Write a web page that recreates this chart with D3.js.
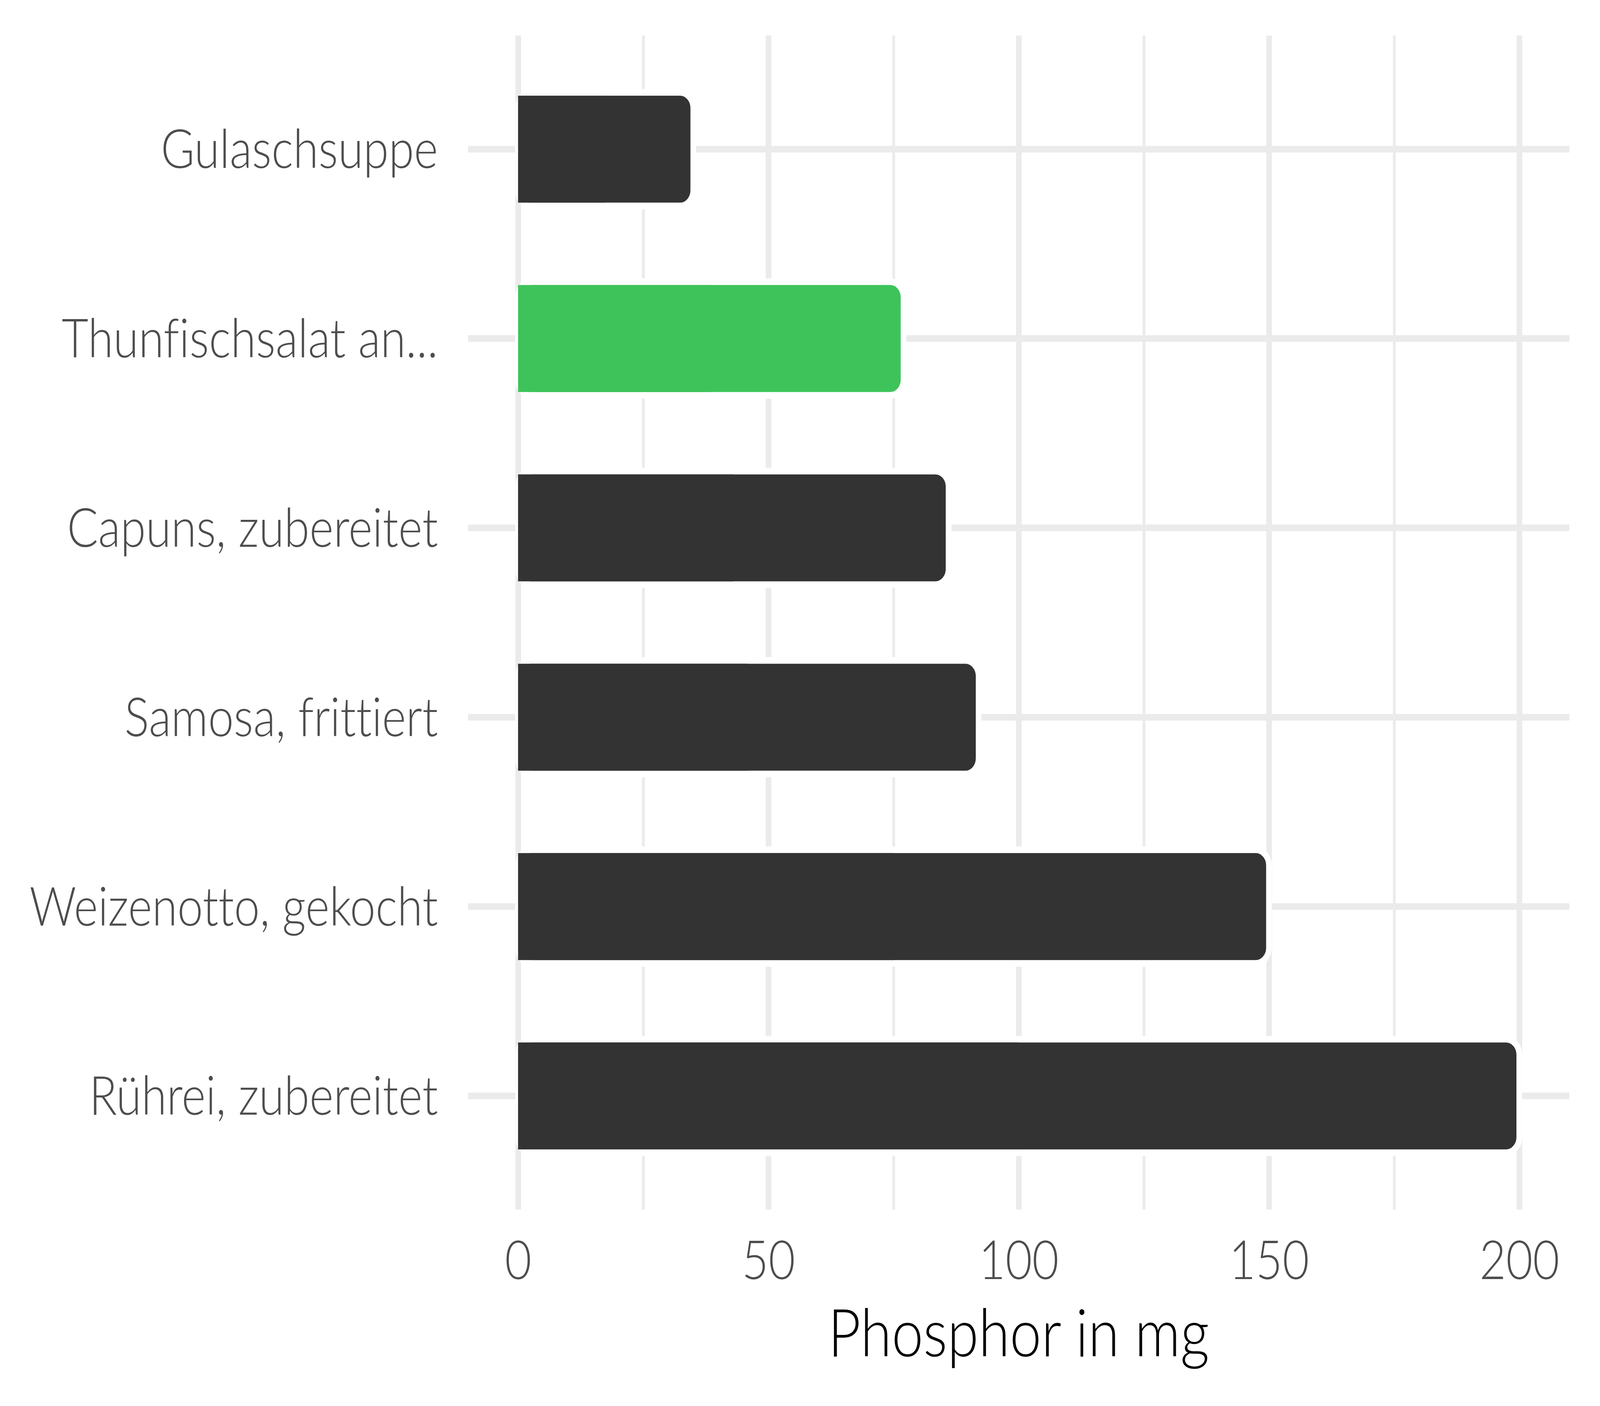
<!DOCTYPE html>
<html>
<head>
<meta charset="utf-8">
<script src="https://cdn.jsdelivr.net/npm/d3@7"></script>
<style>
  html, body { margin: 0; padding: 0; background: #fff; overflow: hidden; }
  #chart-area svg { display: block; width: 100vw; height: 100vh; }
  text { font-family: Lato, "Open Sans", sans-serif; font-variant-ligatures: none; font-feature-settings: "liga" 0, "clig" 0; }
</style>
</head>
<body>
<div id="chart-area"></div>
<script>
const W = 4800
const H = 3600
const PANEL = { LEFT: 1404, RIGHT: 4708, TOP: 91, BOTTOM: 3097 }

// data
const foods = ["Gulaschsuppe", "Thunfischsalat an...", "Capuns, zubereitet",
  "Samosa, frittiert", "Weizenotto, gekocht", "Rührei, zubereitet"]
const phosphor = [35, 77, 86, 92, 150, 200]
const highlight = ["Thunfischsalat an..."]
const majorTicks = [0, 50, 100, 150, 200]
const minorTicks = [25, 75, 125, 175]

const data = foods.map((f, i) => ({ name: f, value: phosphor[i] }))

// the svg fills the whole window, so nothing gets clipped
const svg = d3.select("#chart-area").append("svg")
  .attr("viewBox", `0 0 ${W} ${H}`)
  .attr("preserveAspectRatio", "none")

svg.append("rect").attr("width", W).attr("height", H).attr("fill", "#fff")

const x = d3.scaleLinear().domain([-10, 210]).range([PANEL.LEFT, PANEL.RIGHT])
const y = d3.scaleBand().domain(foods).range([PANEL.TOP, PANEL.BOTTOM])
  .paddingInner(0.4).paddingOuter(0.3)

const panelH = PANEL.BOTTOM - PANEL.TOP
const panelW = PANEL.RIGHT - PANEL.LEFT
const barColor = d => highlight.includes(d.name) ? "#3EC35A" : "#333333"

// minor vertical grid
svg.append("g")
  .attr("transform", `translate(0, ${PANEL.BOTTOM})`)
  .call(d3.axisBottom(x).tickValues(minorTicks).tickSize(0).tickFormat(""))
  .call(g => g.select(".domain").remove())
  .call(g => g.selectAll("line").attr("stroke", "#EBEBEB").attr("stroke-width", 8.5)
    .attr("y2", -panelH))

// major vertical grid
svg.append("g")
  .attr("transform", `translate(0, ${PANEL.BOTTOM})`)
  .call(d3.axisBottom(x).tickValues(majorTicks).tickSize(0).tickFormat(""))
  .call(g => g.select(".domain").remove())
  .call(g => g.selectAll("line").attr("stroke", "#EBEBEB").attr("stroke-width", 17)
    .attr("y2", -panelH))

// horizontal grid at categories
svg.append("g")
  .attr("transform", `translate(${PANEL.LEFT}, 0)`)
  .call(d3.axisLeft(y).tickSize(0).tickFormat(""))
  .call(g => g.select(".domain").remove())
  .call(g => g.selectAll("line").attr("stroke", "#EBEBEB").attr("stroke-width", 17)
    .attr("x2", panelW))

// bars: rounded right end with white outline
const bars = svg.append("g")
bars.selectAll("rect.bar")
  .data(data)
  .join("rect")
  .attr("class", "bar")
  .attr("x", x(0))
  .attr("y", d => y(d.name))
  .attr("width", d => x(d.value) - x(0))
  .attr("height", y.bandwidth())
  .attr("rx", 40)
  .attr("fill", barColor)
  .attr("stroke", "#fff")
  .attr("stroke-width", 17)

// square off the left end
bars.selectAll("rect.left")
  .data(data)
  .join("rect")
  .attr("class", "left")
  .attr("x", x(0))
  .attr("y", d => y(d.name) + 8.5)
  .attr("width", d => (x(d.value) - x(0)) / 2)
  .attr("height", y.bandwidth() - 17)
  .attr("fill", barColor)

// x tick labels
svg.append("g")
  .attr("transform", `translate(0, ${PANEL.BOTTOM})`)
  .call(d3.axisBottom(x).tickValues(majorTicks).tickSize(0))
  .call(g => g.select(".domain").remove())
  .call(g => g.selectAll("text")
    .attr("dy", null)
    .attr("y", 178)
    .attr("font-size", "138px")
    .attr("font-weight", 300)
    .attr("font-family", "Lato, sans-serif")
    .attr("fill", "#4D4D4D"))

// y category labels
svg.append("g")
  .attr("transform", `translate(${PANEL.LEFT}, 0)`)
  .call(d3.axisLeft(y).tickSize(0).tickPadding(90))
  .call(g => g.select(".domain").remove())
  .call(g => g.selectAll("text")
    .attr("dy", "0.35em")
    .attr("font-size", "138px")
    .attr("font-weight", 300)
    .attr("font-family", "Lato, sans-serif")
    .attr("fill", "#4D4D4D"))

// x axis title
svg.append("text")
  .attr("x", (PANEL.LEFT + PANEL.RIGHT) / 2)
  .attr("y", 3473)
  .attr("text-anchor", "middle")
  .attr("font-size", "170px")
  .attr("font-weight", 300)
  .attr("fill", "#000")
  .text("Phosphor in mg")
</script>
</body>
</html>
